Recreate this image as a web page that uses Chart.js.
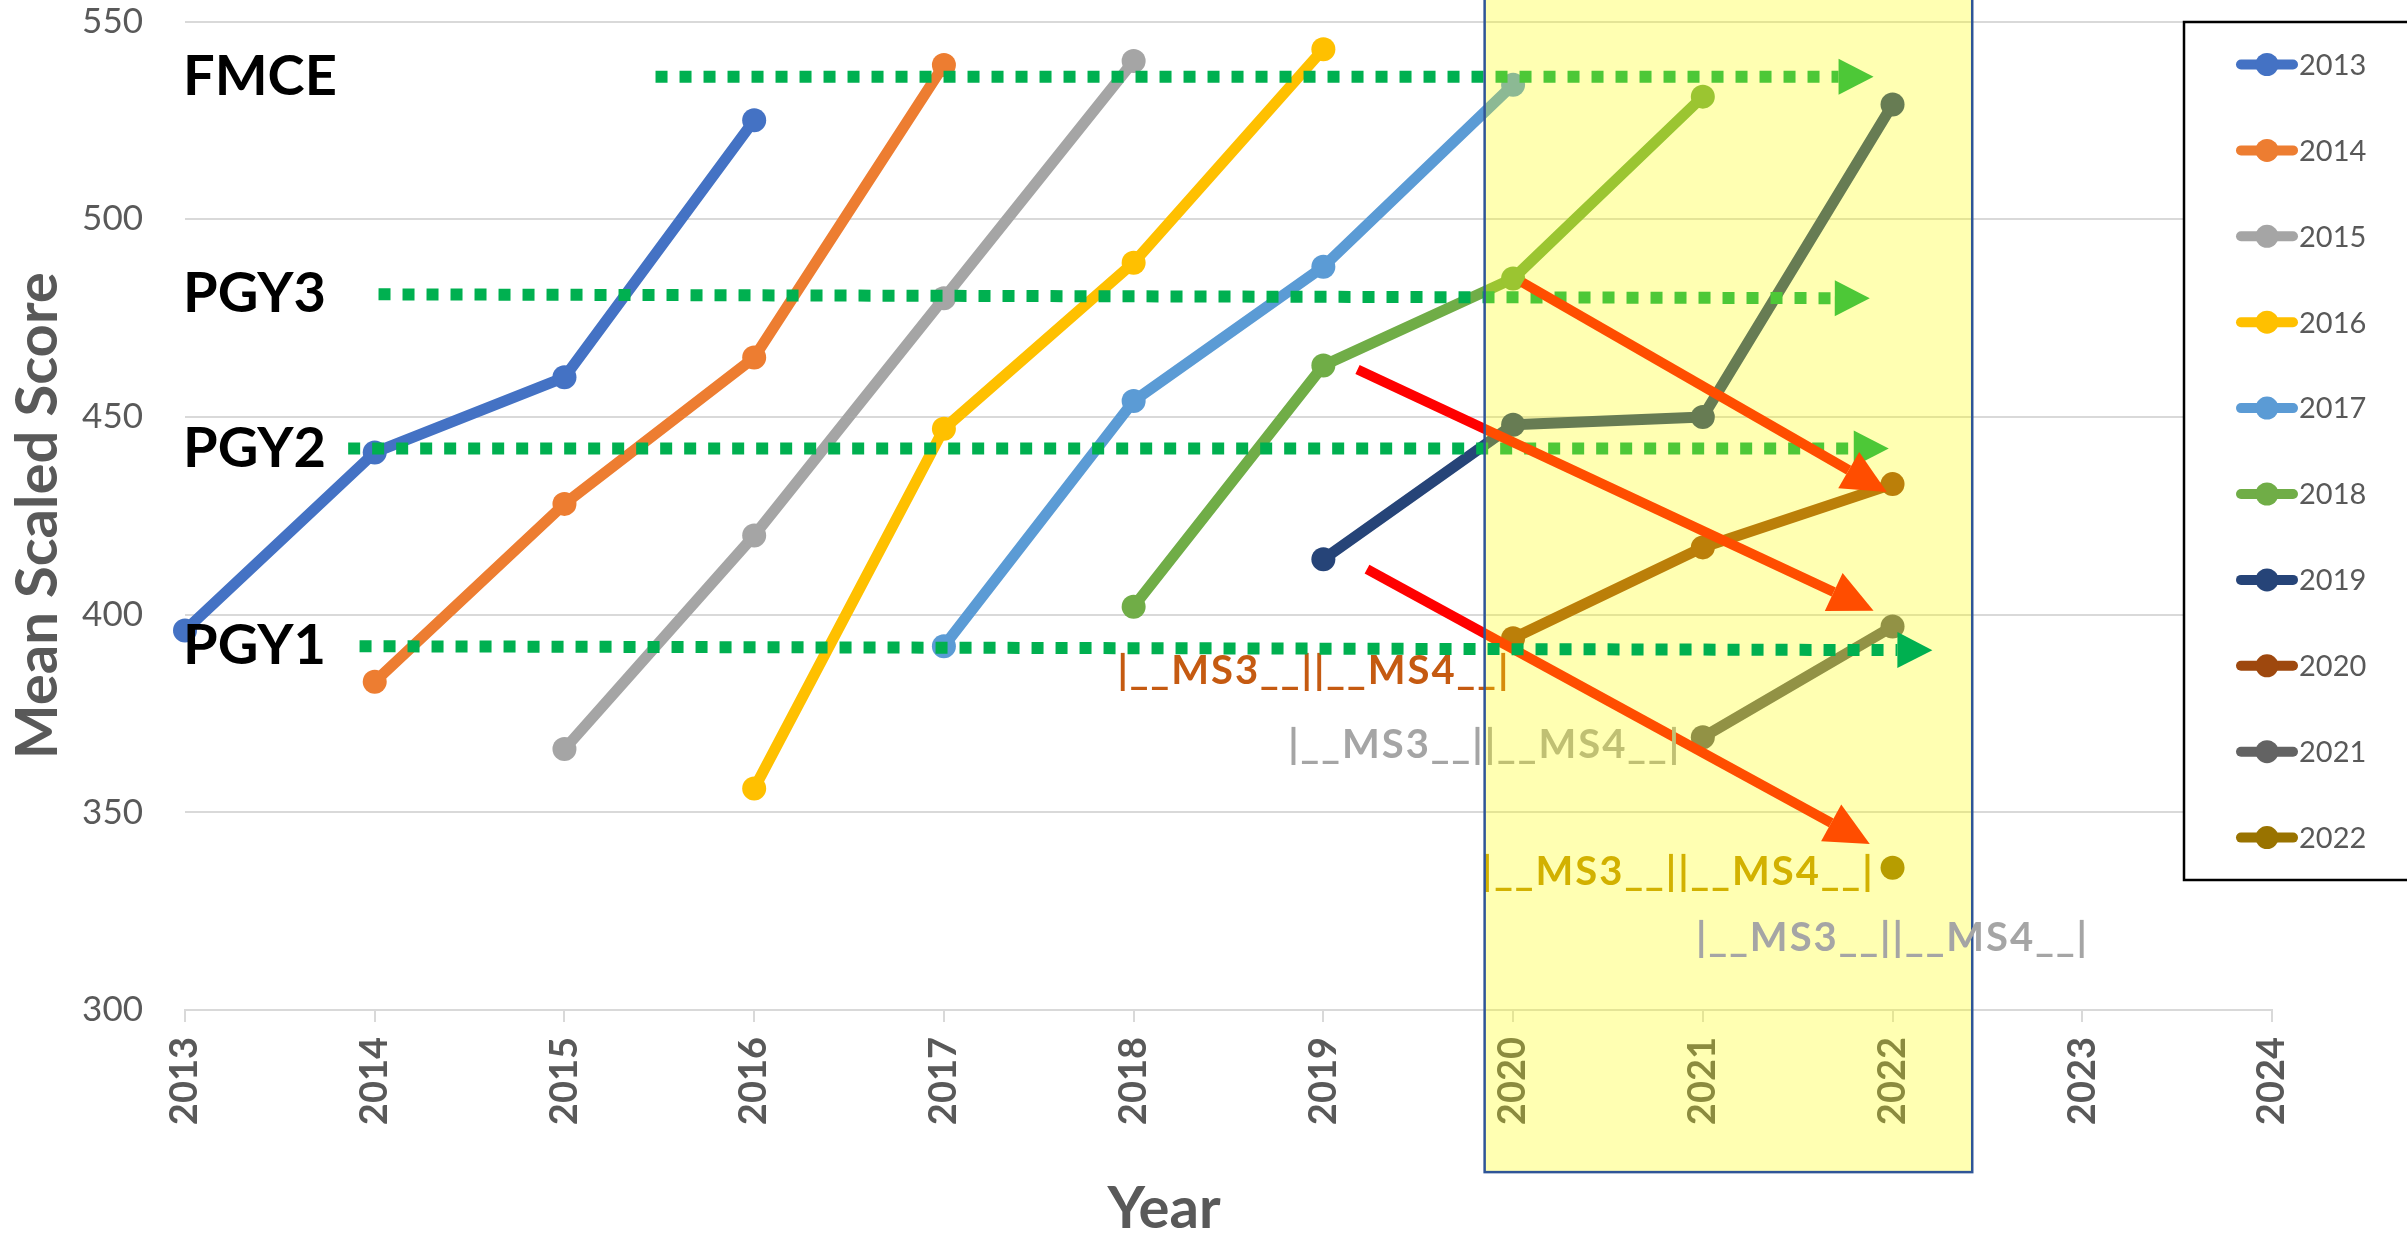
<!DOCTYPE html>
<html>
<head>
<meta charset="utf-8">
<title>Mean Scaled Score by Year</title>
<script src="https://cdn.jsdelivr.net/npm/chart.js@4.4.1/dist/chart.umd.min.js"></script>
<style>
  html, body { margin: 0; padding: 0; background: #fff; }
  #wrap { width: 2407px; height: 1239px; position: relative; }
</style>
</head>
<body>
<div id="wrap"><canvas id="scoreChart"></canvas></div>
<script>
// exam years (x) and axis ticks
const years = [2013, 2014, 2015, 2016, 2017, 2018, 2019, 2020, 2021, 2022];
const xTicks = [2013, 2014, 2015, 2016, 2017, 2018, 2019, 2020, 2021, 2022, 2023, 2024];
const yTicks = [300, 350, 400, 450, 500, 550];

// one line per class, mean scaled score in each year
const classLabels = ['2013', '2014', '2015', '2016', '2017', '2018', '2019', '2020', '2021', '2022'];
const class2013 = [396, 441, 460, 525, null, null, null, null, null, null];
const class2014 = [null, 383, 428, 465, 539, null, null, null, null, null];
const class2015 = [null, null, 366, 420, 480, 540, null, null, null, null];
const class2016 = [null, null, null, 356, 447, 489, 543, null, null, null];
const class2017 = [null, null, null, null, 392, 454, 488, 534, null, null];
const class2018 = [null, null, null, null, null, 402, 463, 485, 531, null];
const class2019 = [null, null, null, null, null, null, 414, 448, 450, 529];
const class2020 = [null, null, null, null, null, null, null, 394, 417, 433];
const class2021 = [null, null, null, null, null, null, null, null, 369, 397];
const class2022 = [null, null, null, null, null, null, null, null, null, 336];
const classScores = [class2013, class2014, class2015, class2016, class2017,
                     class2018, class2019, class2020, class2021, class2022];

const classColors = ['#4472C4', '#ED7D31', '#A5A5A5', '#FFC000', '#5B9BD5',
                     '#70AD47', '#264478', '#9E480E', '#636363', '#997300'];

// benchmark levels: dotted arrows [year, score]
const levelNames = ['FMCE', 'PGY3', 'PGY2', 'PGY1'];
const levelFrom = [[2015.48, 536], [2014.02, 481], [2013.86, 442], [2013.92, 392]];
const levelTo = [[2021.90, 536], [2021.88, 480], [2021.98, 442], [2022.21, 391]];

// drop arrows [year, score]
const dropFrom = [[2020.05, 484], [2019.18, 462], [2019.23, 411.5]];
const dropTo = [[2021.97, 431], [2021.90, 401], [2021.88, 342]];

// student-year brackets, centre [year, score]
const msText = '|__MS3__||__MS4__|';
const msAt = [[2018.95, 385.6], [2019.85, 367.1], [2020.87, 334.9], [2022.0, 318.2]];
const msColors = ['#C55A11', '#A5A5A5', '#BF9000', '#A5A5A5'];

// highlighted years
const boxYears = [2019.85, 2022.42];
const boxScores = [259, 560];

const FONT = 'Lato, "Noto Sans", sans-serif';
const GREEN = '#00B050';

function drawArrow(ctx, x1, y1, x2, y2, color, width, headLen, headHalf, dash) {
  const a = Math.atan2(y2 - y1, x2 - x1);
  const bx = x2 - headLen * Math.cos(a);
  const by = y2 - headLen * Math.sin(a);
  ctx.save();
  ctx.strokeStyle = color;
  ctx.fillStyle = color;
  ctx.lineWidth = width;
  ctx.lineCap = 'butt';
  ctx.setLineDash(dash || []);
  ctx.beginPath();
  ctx.moveTo(x1, y1);
  ctx.lineTo(bx, by);
  ctx.stroke();
  ctx.setLineDash([]);
  ctx.beginPath();
  ctx.moveTo(x2, y2);
  ctx.lineTo(bx + headHalf * Math.sin(a), by - headHalf * Math.cos(a));
  ctx.lineTo(bx - headHalf * Math.sin(a), by + headHalf * Math.cos(a));
  ctx.closePath();
  ctx.fill();
  ctx.restore();
}

function drawLevel(chart, i) {
  const {ctx, scales: {x, y}} = chart;
  drawArrow(ctx,
    x.getPixelForValue(levelFrom[i][0]), y.getPixelForValue(levelFrom[i][1]),
    x.getPixelForValue(levelTo[i][0]), y.getPixelForValue(levelTo[i][1]),
    GREEN, 12, 35, 18, [12, 12]);
}

function drawMs(chart, i) {
  const {ctx, scales: {x, y}} = chart;
  ctx.save();
  ctx.font = 'bold 40px ' + FONT;
  ctx.letterSpacing = '2px';
  ctx.fillStyle = msColors[i];
  ctx.textAlign = 'center';
  ctx.textBaseline = 'middle';
  ctx.fillText(msText, x.getPixelForValue(msAt[i][0]), y.getPixelForValue(msAt[i][1]));
  ctx.restore();
}

const annotations = {
  id: 'annotations',
  afterDatasetsDraw(chart) {
    const {ctx, chartArea, scales: {x, y}} = chart;

    // level names on the left
    ctx.save();
    ctx.font = 'bold 56px ' + FONT;
    ctx.fillStyle = '#000';
    ctx.textAlign = 'left';
    ctx.textBaseline = 'middle';
    levelNames.forEach((name, i) => {
      ctx.fillText(name, chartArea.left - 2, y.getPixelForValue(levelFrom[i][1]));
    });
    ctx.restore();

    // x axis title, set left of centre as in the source
    ctx.save();
    ctx.font = 'bold 58px ' + FONT;
    ctx.fillStyle = '#595959';
    ctx.textAlign = 'center';
    ctx.textBaseline = 'middle';
    ctx.fillText('Year', 1164, 1209);
    ctx.restore();

    // top three levels sit under the highlight
    drawLevel(chart, 0);
    drawLevel(chart, 1);
    drawLevel(chart, 2);

    dropFrom.forEach((p, i) => {
      drawArrow(ctx,
        x.getPixelForValue(p[0]), y.getPixelForValue(p[1]),
        x.getPixelForValue(dropTo[i][0]), y.getPixelForValue(dropTo[i][1]),
        '#FF0000', 10, 44, 21);
    });

    drawMs(chart, 0);
    drawMs(chart, 1);
    drawMs(chart, 2);

    // translucent highlight box
    const bl = x.getPixelForValue(boxYears[0]);
    const br = x.getPixelForValue(boxYears[1]);
    const bb = y.getPixelForValue(boxScores[0]);
    const bt = y.getPixelForValue(boxScores[1]);
    ctx.save();
    ctx.fillStyle = 'rgba(255, 255, 0, 0.3)';
    ctx.fillRect(bl, bt, br - bl, bb - bt);
    ctx.strokeStyle = '#2F5597';
    ctx.lineWidth = 2.5;
    ctx.strokeRect(bl, bt, br - bl, bb - bt);
    ctx.restore();

    drawLevel(chart, 3);
    drawMs(chart, 3);

    // legend box
    const lx = 2184, ly = 22, lb = 880;
    ctx.save();
    ctx.fillStyle = '#fff';
    ctx.fillRect(lx, ly, chart.width - lx + 20, lb - ly);
    ctx.strokeStyle = '#000';
    ctx.lineWidth = 2.5;
    ctx.strokeRect(lx, ly, chart.width - lx + 20, lb - ly);
    ctx.font = '29px ' + FONT;
    ctx.textAlign = 'left';
    ctx.textBaseline = 'middle';
    chart.data.datasets.forEach((ds, i) => {
      const ry = 64.5 + i * 85.9;
      ctx.strokeStyle = ds.borderColor;
      ctx.fillStyle = ds.borderColor;
      ctx.lineWidth = 10;
      ctx.lineCap = 'round';
      ctx.beginPath();
      ctx.moveTo(2241, ry);
      ctx.lineTo(2293, ry);
      ctx.stroke();
      ctx.beginPath();
      ctx.arc(2267, ry, 11.5, 0, Math.PI * 2);
      ctx.fill();
      ctx.fillStyle = '#595959';
      ctx.fillText(ds.label, 2299, ry + 1);
    });
    ctx.restore();
  }
};

new Chart(document.getElementById('scoreChart'), {
  type: 'line',
  data: {
    datasets: classLabels.map((label, i) => ({
      label,
      data: years.map((yr, j) => ({x: yr, y: classScores[i][j]})),
      borderColor: classColors[i],
      backgroundColor: classColors[i],
      pointBackgroundColor: classColors[i],
      borderWidth: 11,
      pointRadius: 12,
      pointBorderWidth: 0,
      borderJoinStyle: 'round',
      borderCapStyle: 'round',
      spanGaps: false,
      clip: false,
      tension: 0
    }))
  },
  options: {
    responsive: true,
    maintainAspectRatio: false,
    animation: false,
    events: [],
    layout: { padding: { top: 21.5, right: 135, left: 0, bottom: 0 } },
    plugins: {
      legend: { display: false },
      tooltip: { enabled: false }
    },
    scales: {
      x: {
        type: 'linear',
        min: 2013,
        max: 2024,
        afterBuildTicks: s => { s.ticks = xTicks.map(v => ({ value: v })); },
        afterFit: s => { s.height = 229; },
        grid: { drawOnChartArea: false, color: '#D9D9D9', lineWidth: 2, tickLength: 12 },
        border: { display: true, color: '#D9D9D9', width: 2 },
        ticks: {
          color: '#595959',
          font: { family: FONT, size: 38, weight: 'bold' },
          minRotation: 90,
          maxRotation: 90,
          padding: 15,
          callback: v => String(v)
        },
        title: { display: false }
      },
      y: {
        min: 300,
        max: 550,
        afterBuildTicks: s => { s.ticks = yTicks.map(v => ({ value: v })); },
        afterFit: s => { s.width = 185; },
        grid: { color: '#D9D9D9', lineWidth: 2, drawTicks: true, tickLength: 42, tickColor: 'rgba(0,0,0,0)' },
        border: { display: false },
        ticks: {
          color: '#595959',
          font: { family: FONT, size: 35 },
          padding: 0
        },
        title: {
          display: true,
          text: 'Mean Scaled Score',
          color: '#595959',
          font: { family: FONT, size: 58, weight: 'bold', lineHeight: 1.2 },
          padding: { top: 3, bottom: 0 }
        }
      }
    }
  },
  plugins: [annotations]
});
</script>
</body>
</html>
